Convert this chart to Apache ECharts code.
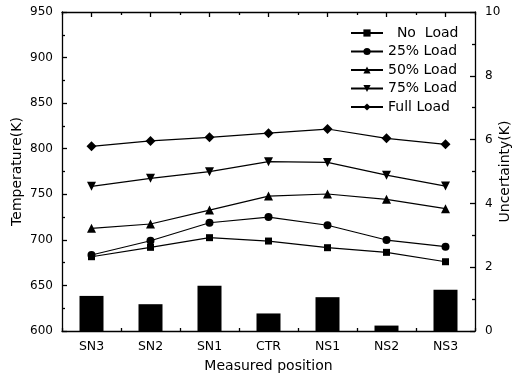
<!DOCTYPE html>
<html>
<head>
<meta charset="utf-8">
<script src="https://cdn.jsdelivr.net/npm/echarts@6/dist/echarts.min.js"></script>
<style>html,body{margin:0;padding:0;background:#fff;}#c{width:514px;height:379px;}</style>
</head>
<body>
<div id="c"></div>
<script>
const categories = ['SN3', 'SN2', 'SN1', 'CTR', 'NS1', 'NS2', 'NS3'];
const noLoad = [681.5, 691.8, 702.4, 698.7, 691.4, 686.3, 676.0];
const load25 = [683.4, 699.0, 718.8, 725.0, 716.0, 699.8, 692.5];
const load50 = [712.6, 717.4, 732.7, 748.0, 750.3, 744.5, 734.2];
const load75 = [758.7, 767.5, 774.8, 785.8, 785.0, 771.0, 759.0];
const fullLoad = [802.6, 808.5, 812.5, 817.0, 821.6, 811.4, 804.8];
const uncertainty = [1.1, 0.84, 1.42, 0.55, 1.06, 0.17, 1.29];
const seriesNames = ['  No  Load', '25% Load', '50% Load', '75% Load', 'Full Load'];

const FONT = '"DejaVu Sans", "Liberation Sans", Arial, sans-serif';
const chart = echarts.init(document.getElementById('c'));

const lineSeries = [
  {name: seriesNames[0], data: noLoad, symbol: 'rect', symbolSize: 7, symbolRotate: 0},
  {name: seriesNames[1], data: load25, symbol: 'circle', symbolSize: 8, symbolRotate: 0},
  {name: seriesNames[2], data: load50, symbol: 'triangle', symbolSize: 9, symbolRotate: 0},
  {name: seriesNames[3], data: load75, symbol: 'triangle', symbolSize: 9, symbolRotate: 180},
  {name: seriesNames[4], data: fullLoad, symbol: 'diamond', symbolSize: 10, symbolRotate: 0}
].map(s => Object.assign({
  type: 'line',
  xAxisIndex: 0,
  yAxisIndex: 0,
  lineStyle: {color: '#000', width: 1.2},
  itemStyle: {color: '#000'},
  showSymbol: true,
  animation: false,
  z: 3
}, s));

const axisLineStyle = {lineStyle: {color: '#000', width: 1.3}};
const tickStyle = {color: '#000', width: 1.3};

chart.setOption({
  animation: false,
  textStyle: {fontFamily: FONT, color: '#000'},
  grid: {left: 62, right: 39, top: 12, bottom: 48, containLabel: false, outerBoundsMode: 'none'},
  legend: {
    data: seriesNames,
    orient: 'vertical',
    left: 350,
    top: 26,
    padding: 0,
    itemWidth: 32,
    itemHeight: 9,
    itemGap: 4.5,
    textStyle: {fontFamily: FONT, fontSize: 14, color: '#000'}
  },
  xAxis: [
    {
      type: 'category', data: categories, position: 'bottom',
      axisLine: axisLineStyle,
      axisTick: {show: true, inside: true, length: 3, lineStyle: tickStyle},
      axisLabel: {color: '#000', fontSize: 12.5, margin: 9, fontFamily: FONT},
      name: 'Measured position', nameLocation: 'middle', nameGap: 28, nameMoveOverlap: false,
      nameTextStyle: {fontSize: 14, color: '#000', fontFamily: FONT}
    },
    {
      type: 'category', data: categories, position: 'top',
      axisLine: axisLineStyle,
      axisTick: {show: true, inside: true, length: 3, lineStyle: tickStyle},
      axisLabel: {show: false}
    },
    {
      type: 'category', data: categories, position: 'top',
      axisLine: {show: false},
      axisTick: {show: true, inside: true, length: 5, alignWithLabel: true, lineStyle: tickStyle},
      axisLabel: {show: false}
    }
  ],
  yAxis: [
    {
      type: 'value', min: 600, max: 950, interval: 50, position: 'left',
      axisLine: {show: true, lineStyle: {color: '#000', width: 1.3}},
      axisTick: {show: true, inside: true, length: 5, lineStyle: tickStyle},
      minorTick: {show: true, splitNumber: 2, length: 3, lineStyle: tickStyle},
      splitLine: {show: false},
      axisLabel: {color: '#000', fontSize: 12, margin: 9, fontFamily: FONT},
      name: 'Temperature(K)', nameLocation: 'middle', nameGap: 38, nameRotate: 90, nameMoveOverlap: false,
      nameTextStyle: {fontSize: 14, color: '#000', fontFamily: FONT}
    },
    {
      type: 'value', min: 0, max: 10, interval: 2, position: 'right',
      axisLine: {show: true, lineStyle: {color: '#000', width: 1.3}},
      axisTick: {show: true, inside: true, length: 5, lineStyle: tickStyle},
      minorTick: {show: true, splitNumber: 2, length: 3, lineStyle: tickStyle},
      splitLine: {show: false},
      axisLabel: {color: '#000', fontSize: 12, margin: 10, fontFamily: FONT},
      name: 'Uncertainty(K)', nameLocation: 'middle', nameGap: 23, nameRotate: 90, nameMoveOverlap: false,
      nameTextStyle: {fontSize: 14, color: '#000', fontFamily: FONT}
    }
  ],
  series: [
    {
      type: 'bar', name: 'Uncertainty', data: uncertainty,
      xAxisIndex: 0, yAxisIndex: 1, barWidth: 24,
      itemStyle: {color: '#000'}, z: 2
    }
  ].concat(lineSeries)
});
</script>
</body>
</html>
